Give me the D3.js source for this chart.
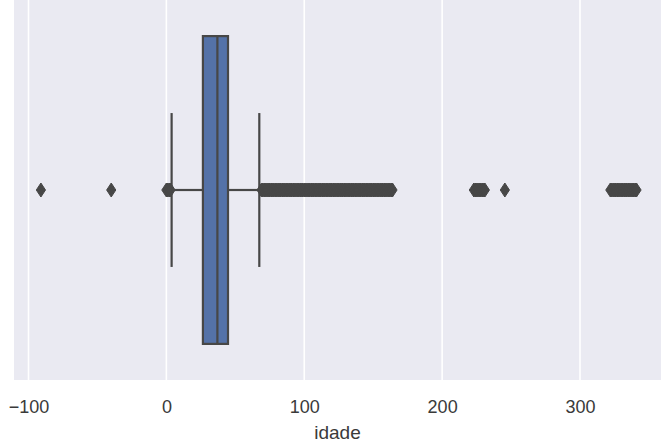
<!DOCTYPE html>
<html>
<head>
<meta charset="utf-8">
<script src="https://cdn.jsdelivr.net/npm/d3@7"></script>
<style>
  body { margin: 0; background: #fff; }
  svg { display: block; font-family: "Liberation Sans", Arial, sans-serif; }
</style>
</head>
<body>
<div id="chart"></div>
<script>
// valores
const categorias = ['idade'];
const caixa = { q1: 26.5, mediana: 37, q3: 44.7, minimo: 3.8, maximo: 67.4 };
const outliers = [
  -91, -40, 0, 1, 2, 3,
  69, 70, 71, 72, 73, 74, 75, 76, 77, 78, 79, 80, 81, 82, 83, 84, 85, 86, 87, 88, 89, 90,
  91, 92, 93, 94, 95, 96, 97, 98, 99, 100, 101, 102, 103, 104, 105, 106, 107, 108, 109, 110,
  111, 112, 113, 114, 115, 116, 117, 118, 119, 120, 121, 122, 123, 124, 125, 126, 127, 128,
  129, 130, 131, 132, 133, 134, 135, 136, 137, 138, 139, 140, 141, 142, 143, 144, 145, 146,
  147, 148, 149, 150, 151, 152, 153, 154, 155, 156, 157, 158, 159, 160, 161, 162, 163, 164,
  223, 224, 225, 226, 227, 228, 229, 230, 231,
  245.5,
  322, 323, 324, 325, 326, 327, 328, 329, 330, 331, 332, 333, 334, 335, 336, 337, 338, 339, 340, 341
];
const ticksX = [-100, 0, 100, 200, 300];
const limitesX = [-110.5, 363];

// tamanho
const W = 661, H = 447;
const plotTop = 0, plotBottom = 380;

const svg = d3.select('#chart').append('svg')
  .attr('width', W).attr('height', H);

const x = d3.scaleLinear().domain([-100, 300]).range([28.5, 580]);
const y = d3.scaleBand().domain(categorias).range([plotTop, plotBottom]).paddingInner(0.19).paddingOuter(0);

//fundo
svg.append('rect')
  .attr('x', x(limitesX[0])).attr('y', plotTop)
  .attr('width', x(limitesX[1]) - x(limitesX[0])).attr('height', plotBottom - plotTop)
  .attr('fill', '#eaeaf2');

//grid
svg.selectAll('line.grid').data(ticksX).join('line')
  .attr('class', 'grid')
  .attr('x1', d => x(d)).attr('x2', d => x(d))
  .attr('y1', plotTop).attr('y2', plotBottom)
  .attr('stroke', '#fff').attr('stroke-width', 1.6);

//eixo x
const eixo = svg.append('g')
  .attr('transform', `translate(0,${plotBottom})`)
  .call(d3.axisBottom(x).tickValues(ticksX).tickSize(0).tickPadding(20)
    .tickFormat(d => d < 0 ? '\u2212' + Math.abs(d) : d));
eixo.select('.domain').remove();
eixo.selectAll('text').attr('font-size', 18).attr('fill', '#3a3a3a')
  .attr('font-family', '"Liberation Sans", Arial, sans-serif');

svg.append('text')
  .attr('x', (x(limitesX[0]) + Math.min(W, x(limitesX[1]))) / 2).attr('y', 439)
  .attr('text-anchor', 'middle')
  .attr('font-size', 19).attr('fill', '#3a3a3a')
  .text('idade');

const cor = '#474747';
const cy = y('idade') + y.bandwidth() / 2;
const bw = y.bandwidth();

//bigodes
svg.append('line')
  .attr('x1', x(caixa.minimo)).attr('x2', x(caixa.q1))
  .attr('y1', cy).attr('y2', cy)
  .attr('stroke', cor).attr('stroke-width', 2.2);
svg.append('line')
  .attr('x1', x(caixa.q3)).attr('x2', x(caixa.maximo))
  .attr('y1', cy).attr('y2', cy)
  .attr('stroke', cor).attr('stroke-width', 2.2);
svg.selectAll('line.cap').data([caixa.minimo, caixa.maximo]).join('line')
  .attr('class', 'cap')
  .attr('x1', d => x(d)).attr('x2', d => x(d))
  .attr('y1', cy - bw / 4).attr('y2', cy + bw / 4)
  .attr('stroke', cor).attr('stroke-width', 2.2);

//caixa
svg.append('rect')
  .attr('x', x(caixa.q1)).attr('y', y('idade'))
  .attr('width', x(caixa.q3) - x(caixa.q1)).attr('height', bw)
  .attr('fill', '#5472a8').attr('stroke', cor).attr('stroke-width', 2.2);
svg.append('line')
  .attr('x1', x(caixa.mediana)).attr('x2', x(caixa.mediana))
  .attr('y1', y('idade')).attr('y2', y('idade') + bw)
  .attr('stroke', cor).attr('stroke-width', 2.2);

//outliers (diamante fino)
const losango = 'M0,-7L4.6,0L0,7L-4.6,0Z';
svg.selectAll('path.flier').data(outliers).join('path')
  .attr('class', 'flier')
  .attr('transform', d => `translate(${x(d)},${cy})`)
  .attr('d', losango)
  .attr('fill', cor).attr('stroke', cor).attr('stroke-width', 1);
</script>
</body>
</html>
